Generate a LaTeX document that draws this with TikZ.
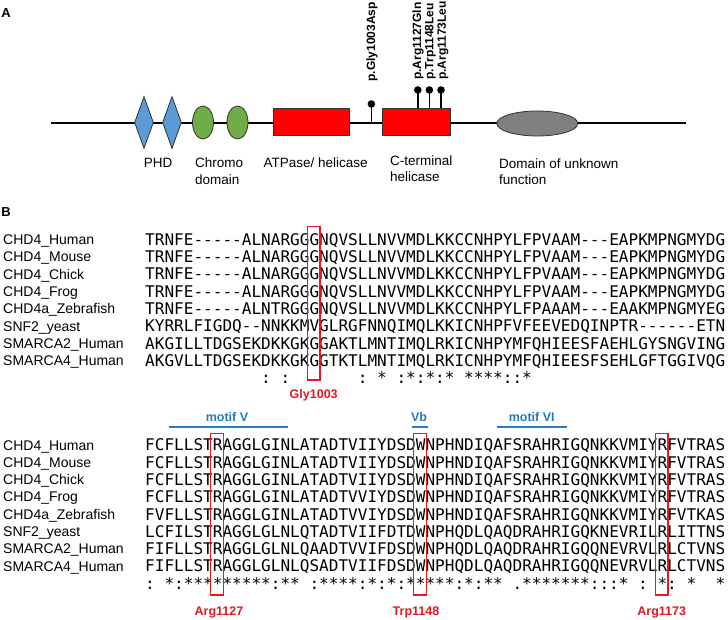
\documentclass[tikz,border=0pt]{standalone}
\usepackage{fontspec}
\setmainfont{Liberation Sans}
\newfontfamily\seqfont{DejaVu Sans Mono}
\usetikzlibrary{calc, shapes.geometric, positioning}

\definecolor{phdblue}{RGB}{91,155,213}
\definecolor{chromogreen}{RGB}{112,173,71}
\definecolor{helred}{RGB}{255,0,0}
\definecolor{dufgray}{RGB}{128,128,128}
\definecolor{motifblue}{RGB}{39,121,193}
\definecolor{mutred}{RGB}{232,24,32}

\tikzset{
  panel/.style={inner sep=0pt, font=\fontsize{13}{13}\selectfont\bfseries},
  backbone/.style={line width=2.6pt},
  dom/.style={draw=black!80, line width=0.8pt, inner sep=0pt},
  stem/.style={line width=1.4pt},
  ball/.style={circle, fill=black, inner sep=0pt, minimum size=7.6pt},
  dlbl/.style={inner sep=0pt, align=left, anchor=north west, font=\fontsize{13.5}{16.5}\selectfont},
  mutlbl/.style={inner sep=0pt, rotate=90, anchor=west, font=\fontsize{12}{12}\selectfont\bfseries},
  seqname/.style={inner sep=0pt, anchor=base west, font=\fontsize{14}{14}\selectfont},
  seqrow/.style={inner sep=0pt, anchor=base west, font=\seqfont\fontsize{16.06}{16}\selectfont},
  mutbox/.style={draw=mutred, line width=1.6pt, inner sep=0pt, minimum width=12.7pt},
  mutname/.style={inner sep=0pt, text=mutred, font=\fontsize{12.5}{12.5}\selectfont\bfseries},
  motif/.style={inner sep=0pt, text=motifblue, font=\fontsize{12.5}{12.5}\selectfont\bfseries},
  motifline/.style={draw=motifblue, line width=2pt}
}

\begin{document}
\begin{tikzpicture}[x=1pt, y=-1pt]
\path[fill=white, use as bounding box] (0,0) rectangle (728,620);

\node[panel] (A) at (6,13) {A};
\coordinate (nterm) at (51,123);
\coordinate (cterm) at (686,123);
\draw[backbone] (nterm) -- (cterm);

\node[dom, diamond, fill=phdblue, minimum width=19, minimum height=52] (phd1) at (144,122.5) {};
\node[dom, diamond, fill=phdblue, minimum width=19, minimum height=52] (phd2) at (172,122.5) {};
\node[dom, ellipse, fill=chromogreen, minimum width=21, minimum height=33] (chromo1) at (203,122.5) {};
\node[dom, ellipse, fill=chromogreen, minimum width=21, minimum height=33] (chromo2) at (237.5,122.5) {};
\node[dom, rectangle, fill=helred, minimum width=76.6, minimum height=27.4] (atpase) at (311.3,122) {};
\node[dom, rectangle, fill=helred, minimum width=68.3, minimum height=27.4] (ctermhel) at (416.2,122) {};
\node[dom, ellipse, fill=dufgray, minimum width=81, minimum height=25] (duf) at (537.3,123.5) {};

\coordinate (m1003) at (371.4,104);
\coordinate (m1127) at (417.8,90);
\coordinate (m1148) at (429.4,90);
\coordinate (m1173) at (441,90);
\draw[stem] (m1003 |- nterm) -- (m1003);
\foreach \m in {m1127, m1148, m1173}
  \draw[stem] (ctermhel.north -| \m) -- (\m);
\foreach \m in {m1003, m1127, m1148, m1173}
  \node[ball] at (\m) {};

\node[mutlbl] (p1003) at (372,81.7) {p.Gly1003Asp};
\node[mutlbl] (p1127) at (418,80) {p.Arg1127Gln};
\node[mutlbl] (p1148) at (430.5,80) {p.Trp1148Leu};
\node[mutlbl] (p1173) at (443,80) {p.Arg1173Leu};

\node[dlbl, anchor=center] (phdlbl) at (158,163.3) {PHD};
\node[dlbl] (chromolbl) at (195,157.9) {Chromo\\domain};
\node[dlbl, anchor=center] (atplbl) at (315.7,162.7) {ATPase/ helicase};
\node[dlbl] (ctlbl) at (390,155.2) {C-terminal\\helicase};
\node[dlbl] (duflbl) at (499,158.5) {Domain of unknown\\function};

\node[panel] (B) at (6,212.5) {B};

\foreach \nm/\sqa/\sqb [count=\i from 0] in {
  CHD4\_Human/TRNFE-----ALNARGGGNQVSLLNVVMDLKKCCNHPYLFPVAAM---EAPKMPNGMYDG/FCFLLSTRAGGLGINLATADTVIIYDSDWNPHNDIQAFSRAHRIGQNKKVMIYRFVTRAS,
  CHD4\_Mouse/TRNFE-----ALNARGGGNQVSLLNVVMDLKKCCNHPYLFPVAAM---EAPKMPNGMYDG/FCFLLSTRAGGLGINLATADTVIIYDSDWNPHNDIQAFSRAHRIGQNKKVMIYRFVTRAS,
  CHD4\_Chick/TRNFE-----ALNARGGGNQVSLLNVVMDLKKCCNHPYLFPVAAM---EAPKMPNGMYDG/FCFLLSTRAGGLGINLATADTVIIYDSDWNPHNDIQAFSRAHRIGQNKKVMIYRFVTRAS,
  CHD4\_Frog/TRNFE-----ALNARGGGNQVSLLNVVMDLKKCCNHPYLFPVAAM---EAPKMPNGMYDG/FCFLLSTRAGGLGINLATADTVVIYDSDWNPHNDIQAFSRAHRIGQNKKVMIYRFVTRAS,
  CHD4a\_Zebrafish/TRNFE-----ALNTRGGGNQVSLLNVVMDLKKCCNHPYLFPAAAM---EAAKMPNGMYEG/FVFLLSTRAGGLGINLATADTVVIYDSDWNPHNDIQAFSRAHRIGQNKKVMIYRFVTKAS,
  SNF2\_yeast/KYRRLFIGDQ--NNKKMVGLRGFNNQIMQLKKICNHPFVFEEVEDQINPTR------ETN/LCFILSTRAGGLGLNLQTADTVIIFDTDWNPHQDLQAQDRAHRIGQKNEVRILRLITTNS,
  SMARCA2\_Human/AKGILLTDGSEKDKKGKGGAKTLMNTIMQLRKICNHPYMFQHIEESFAEHLGYSNGVING/FIFLLSTRAGGLGLNLQAADTVVIFDSDWNPHQDLQAQDRAHRIGQQNEVRVLRLCTVNS,
  SMARCA4\_Human/AKGVLLTDGSEKDKKGKGGTKTLMNTIMQLRKICNHPYMFQHIEESFSEHLGFTGGIVQG/FIFLLSTRAGGLGLNLQSADTVIIFDSDWNPHQDLQAQDRAHRIGQQNEVRVLRLCTVNS}
{
  \node[seqname] (nameA\i) at (3,244.5+17.3*\i) {\nm};
  \node[seqrow] (seqA\i) at (145,245.35+17.3*\i) {\sqa};
  \node[seqname] (nameB\i) at (3,450+17.3*\i) {\nm};
  \node[seqrow] (seqB\i) at (145,450.85+17.3*\i) {\sqb};
}

\foreach \c/\s in {12/:,14/:,22/:,24/*,26/:,27/*,28/:,29/*,30/:,31/*,33/*,34/*,35/*,36/*,37/:,38/:,39/*}
  \node[seqrow] at (145+9.667*\c,383.75) {\s};
\foreach \c/\s in {0/:,2/*,3/:,4/*,5/*,6/*,7/*,8/*,9/*,10/*,11/*,12/*,13/:,14/*,15/*,17/:,18/*,19/*,20/*,21/*,
    22/:,23/*,24/:,25/*,26/:,27/*,28/*,29/*,30/*,31/*,32/:,33/*,34/:,35/*,36/*,38/.,39/*,40/*,41/*,42/*,43/*,44/*,45/*,
    46/:,47/:,48/:,49/*,51/:,53/*,54/:,56/*,59/*}
  \node[seqrow] at (145+9.667*\c,589.25) {\s};

\node[mutbox, minimum height=153.5] (boxG) at (313.7,303.25) {};
\node[mutname, below=8pt of boxG] (gly) {Gly1003};

\node[motif] (motV) at (227,416.7) {motif V};
\node[motif] (motVb) at (419,416.7) {Vb};
\node[motif] (motVI) at (531.7,416.7) {motif VI};
\coordinate (motVs) at (169.3,426.8);
\coordinate (motVe) at (288.3,426.8);
\coordinate (motVbs) at (412.3,426.8);
\coordinate (motVbe) at (428,426.8);
\coordinate (motVIs) at (497.3,426.8);
\coordinate (motVIe) at (566.7,426.8);
\draw[motifline] (motVs) -- (motVe);
\draw[motifline] (motVbs) -- (motVbe);
\draw[motifline] (motVIs) -- (motVIe);

\node[mutbox, minimum height=161.7] (boxR1) at (217,514.15) {};
\node[mutbox, minimum height=161.7] (boxW) at (420,514.15) {};
\node[mutbox, minimum height=161.7] (boxR2) at (661.7,514.15) {};
\node[mutname, below=10.5pt of boxR1, xshift=2pt] (arg1) {Arg1127};
\node[mutname, below=10.5pt of boxW, xshift=-4pt] (trp) {Trp1148};
\node[mutname, below=10.5pt of boxR2] (arg2) {Arg1173};
\end{tikzpicture}
\end{document}
